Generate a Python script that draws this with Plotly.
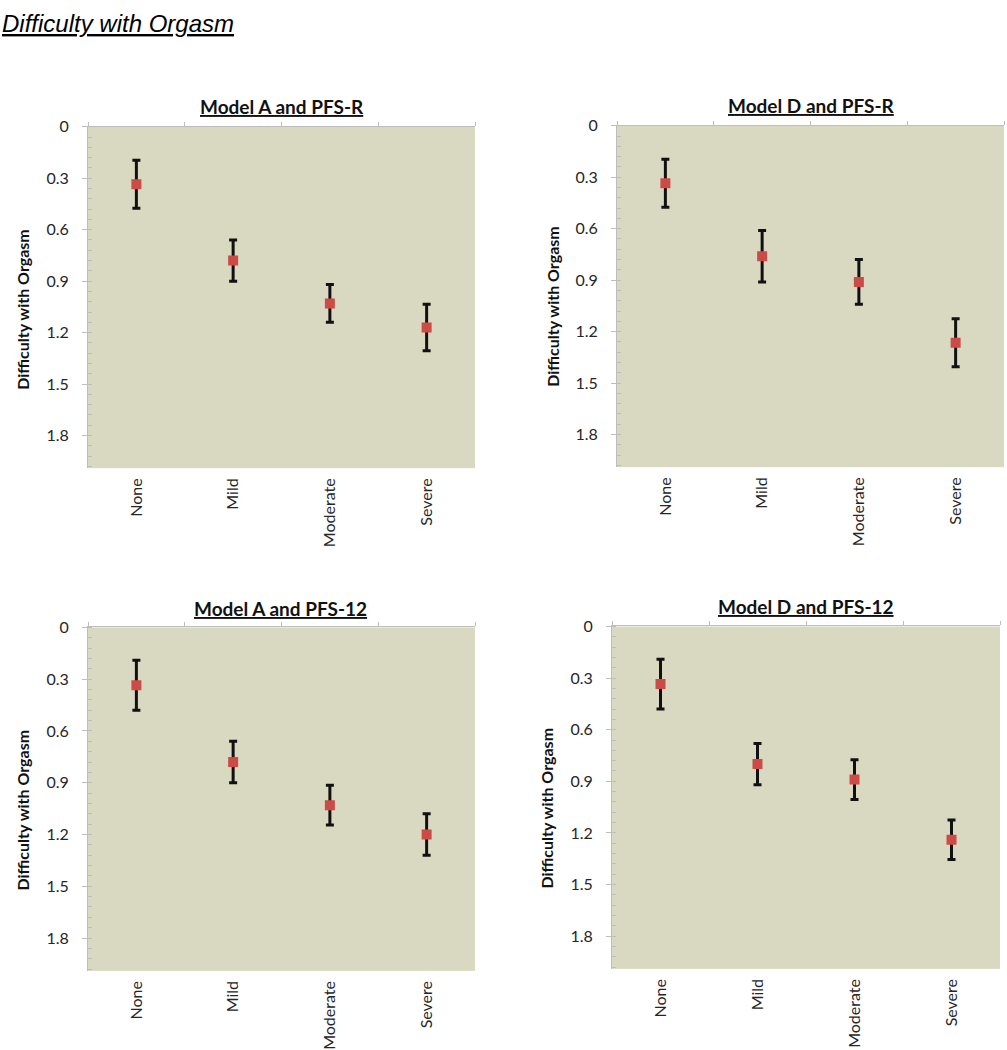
import plotly.graph_objects as go

categories = ["None", "Mild", "Moderate", "Severe"]

panel_titles = ["Model A and PFS-R", "Model D and PFS-R", "Model A and PFS-12", "Model D and PFS-12"]

modelA_pfsr_mean = [0.335, 0.78, 1.03, 1.17]
modelA_pfsr_err = [0.14, 0.12, 0.11, 0.135]

modelD_pfsr_mean = [0.335, 0.76, 0.91, 1.265]
modelD_pfsr_err = [0.14, 0.15, 0.13, 0.14]

modelA_pfs12_mean = [0.335, 0.78, 1.03, 1.20]
modelA_pfs12_err = [0.145, 0.12, 0.115, 0.12]

modelD_pfs12_mean = [0.335, 0.80, 0.89, 1.24]
modelD_pfs12_err = [0.145, 0.12, 0.115, 0.115]

y_tick_vals = [0, 0.3, 0.6, 0.9, 1.2, 1.5, 1.8]
y_tick_text = ["0", "0.3", "0.6", "0.9", "1.2", "1.5", "1.8"]

main_title = "Difficulty with Orgasm"
y_title = "Difficulty with Orgasm"

means = [modelA_pfsr_mean, modelD_pfsr_mean, modelA_pfs12_mean, modelD_pfs12_mean]
errs = [modelA_pfsr_err, modelD_pfsr_err, modelA_pfs12_err, modelD_pfs12_err]

W, H = 1007, 1050
# pixel boxes of plot areas: (left, right, top, bottom)
boxes = [(88, 475, 118, 463), (617, 1004, 117, 462), (88, 475, 624, 971), (612, 1000, 623, 969)]
title_pos = [(282, 98), (811, 97), (280, 605), (806, 603)]
ytitle_pos = [(23, 303), (553, 300), (23, 809), (547, 807)]

BG = "#D9D8C1"
RED = "#CD4B47"
AXIS = "#BDBDBD"
TXT = "#262626"
FONT = "Lato"

fig = go.Figure()
layout = dict(
    width=W, height=H, margin=dict(l=0, r=0, t=0, b=0),
    paper_bgcolor="white", plot_bgcolor=BG, showlegend=False,
)
annotations = []

for i in range(4):
    n = i + 1
    xa = "x" if n == 1 else f"x{n}"
    ya = "y" if n == 1 else f"y{n}"
    xt = f"x{n + 4}"
    l, r, t, b = boxes[i]
    xdom = [l / W, r / W]
    ydom = [1 - b / H, 1 - t / H]

    fig.add_trace(go.Scatter(
        x=categories, y=means[i], mode="markers", xaxis=xa, yaxis=ya,
        marker=dict(symbol="square", size=10, color=RED),
        error_y=dict(type="data", array=errs[i], visible=True,
                     color="#111111", thickness=3, width=4),
        hoverinfo="x+y",
    ))
    # invisible trace to carry the top boundary axis
    fig.add_trace(go.Scatter(
        x=[0, 3], y=[means[i][0], means[i][-1]], mode="markers", xaxis=xt, yaxis=ya,
        marker=dict(opacity=0), hoverinfo="skip",
    ))

    layout["xaxis" if n == 1 else f"xaxis{n}"] = dict(
        domain=xdom, anchor=ya, type="category", range=[-0.5, 3.5],
        showline=False, showgrid=False, zeroline=False, ticks="",
        tickangle=-90, tickfont=dict(family=FONT, size=16, color=TXT),
        ticklabelstandoff=6, fixedrange=True,
    )
    layout[f"xaxis{n + 4}"] = dict(
        domain=xdom, anchor=ya, overlaying=xa, side="top", type="linear",
        range=[-0.5, 3.5], tickvals=[-0.5, 0.5, 1.5, 2.5, 3.5],
        showticklabels=False, ticks="outside", ticklen=4, tickcolor=AXIS,
        showline=True, linecolor=AXIS, linewidth=1, showgrid=False, zeroline=False,
    )
    layout["yaxis" if n == 1 else f"yaxis{n}"] = dict(
        domain=ydom, anchor=xa, range=[1.99, 0],
        tickvals=y_tick_vals, ticktext=y_tick_text,
        ticks="outside", ticklen=5, tickcolor=AXIS,
        showline=True, linecolor=AXIS, linewidth=1,
        showgrid=False, zeroline=False,
        tickfont=dict(family=FONT, size=16, color=TXT),
        ticklabelstandoff=10,
        minor=dict(dtick=0.06, tick0=0, ticks="inside", ticklen=4, tickcolor=AXIS, showgrid=False),
    )

    tx, ty = title_pos[i]
    annotations.append(dict(
        text=f"<b><u>{panel_titles[i]}</u></b>", xref="paper", yref="paper",
        x=tx / W, y=1 - ty / H, xanchor="center", yanchor="middle", showarrow=False,
        font=dict(family=FONT, size=19, color="#111111"),
    ))
    ax_, ay_ = ytitle_pos[i]
    annotations.append(dict(
        text=f"<b>{y_title}</b>", xref="paper", yref="paper",
        x=ax_ / W, y=1 - ay_ / H, xanchor="center", yanchor="middle", showarrow=False,
        textangle=-90, font=dict(family=FONT, size=16, color="#111111"),
    ))

annotations.append(dict(
    text=f"<i><u>{main_title}</u></i>", xref="paper", yref="paper",
    x=0, y=1 - 14 / H, xanchor="left", yanchor="middle", showarrow=False,
    font=dict(family="Liberation Sans", size=24, color="#000000"),
))

layout["annotations"] = annotations
fig.update_layout(**layout)
fig.write_html(
    "out.html",
    config={"displayModeBar": False},
    post_script="document.body.style.margin='0';document.body.style.overflow='hidden';",
)
